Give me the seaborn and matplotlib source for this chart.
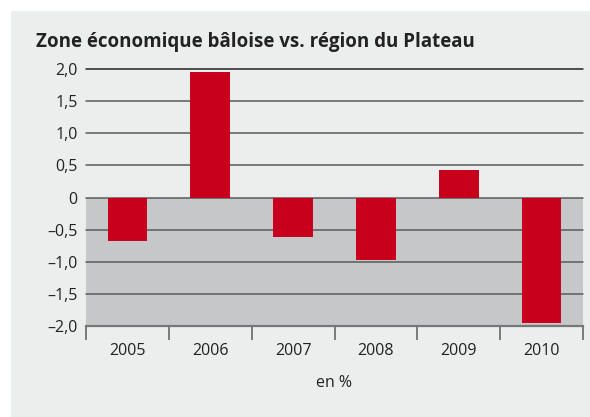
import numpy as np
import pandas as pd
import matplotlib.pyplot as plt
import seaborn as sns
from matplotlib.patches import Rectangle

# Données
annees = ["2005", "2006", "2007", "2008", "2009", "2010"]
valeurs = [-0.67, 1.95, -0.62, -0.97, 0.43, -1.96]
yticks = [2.0, 1.5, 1.0, 0.5, 0.0, -0.5, -1.0, -1.5, -2.0]
ylabels = ["2,0", "1,5", "1,0", "0,5", "0", "\u20130,5", "\u20131,0", "\u20131,5", "\u20132,0"]
titre = "Zone économique bâloise vs. région du Plateau"
unite = "en %"

sns.set_theme(style="white")
plt.rcParams['font.family'] = ['Open Sans', 'DejaVu Sans']

panneau = "#ECEDED"
gris_neg = "#C6C7C9"
rouge = "#C8001C"
ligne = "#5A5A5A"

fig = plt.figure(figsize=(5.9, 4.17), dpi=100)
fig.patch.set_facecolor("white")
fig.patches.append(Rectangle((11 / 590, 0), 1, 1 - 11 / 417, transform=fig.transFigure,
                             facecolor=panneau, edgecolor="none", zorder=-10))

ax = fig.add_axes([86 / 590, 1 - 326 / 417, (583 - 86) / 590, (326 - 69) / 417])
ax.set_facecolor(panneau)

df = pd.DataFrame({"annee": annees, "valeur": valeurs})
ax.axhspan(-2, 0, color=gris_neg, zorder=0.5, lw=0)
for y in yticks[:-1]:
    ax.axhline(y, color="#222222" if y == 2.0 else ligne, lw=1.1, zorder=1, clip_on=False)

sns.barplot(data=df, x="annee", y="valeur", color=rouge, width=0.48,
            saturation=1, linewidth=0, ax=ax, zorder=2)

ax.set_xlim(-0.5, len(annees) - 0.5)
ax.set_ylim(-2, 2)
ax.set_yticks(yticks)
ax.set_yticklabels(ylabels)
ax.set_xlabel(unite, fontsize=11.5, color="#222222", labelpad=12)
ax.set_ylabel("")

for s in ["top", "right", "left"]:
    ax.spines[s].set_visible(False)
ax.spines["bottom"].set_color("#777777")
ax.spines["bottom"].set_linewidth(1.6)

ax.tick_params(axis="y", length=0, pad=6, labelsize=11.5, labelcolor="#222222")
ax.tick_params(axis="x", which="major", bottom=False, length=0, pad=12,
               labelsize=11.5, labelcolor="#222222")
ax.set_xticks(np.arange(-0.5, len(annees), 1.0), minor=True)
ax.tick_params(axis="x", which="minor", bottom=True, length=10, width=1.1,
               color=ligne, direction="out")

fig.text(36 / 590, 1 - 42 / 417, titre, fontsize=13.5, fontweight="bold",
         color="#222222", va="center", ha="left")

fig.savefig("out.png", dpi=100)
